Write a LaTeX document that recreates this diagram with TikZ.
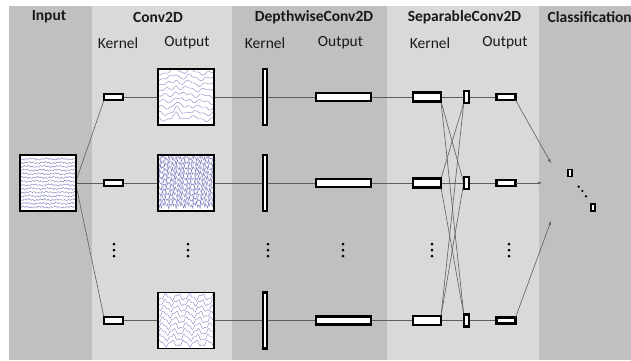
\documentclass[tikz,border=0pt]{standalone}
\usepackage{fontspec}
\setmainfont{Carlito}
\usetikzlibrary{arrows.meta,calc}
\pgfdeclarelayer{back}
\pgfdeclarelayer{lines}
\pgfsetlayers{back,lines,main}
\definecolor{colD}{HTML}{C0C0C0}
\definecolor{colL}{HTML}{D9D9D9}
\definecolor{conncol}{HTML}{5E5E5E}
\definecolor{wavecol}{RGB}{100,100,180}
\begin{document}
\begin{tikzpicture}[x=1pt,y=-1pt,
  box/.style={draw=black, line width=2.2pt, fill=white, inner sep=0pt, outer sep=0pt},
  sq/.style={box, line width=1.8pt, minimum width=56pt, minimum height=56pt},
  ckbox/.style={box, minimum width=19pt, minimum height=6.5pt},
  dkbox/.style={box, minimum width=3.8pt, minimum height=56pt},
  dobox/.style={box, minimum width=55pt, minimum height=8pt},
  skbox/.style={box, minimum width=28pt, minimum height=9pt},
  ssbox/.style={box, minimum width=5.5pt, minimum height=12pt},
  sobox/.style={box, minimum width=19pt, minimum height=6pt},
  clbox/.style={box, line width=1.8pt, minimum width=4pt, minimum height=7pt},
  title/.style={font=\bfseries\fontsize{15.5}{18}\selectfont, text=black!90, inner sep=0pt},
  sub/.style={font=\fontsize{15.5}{18}\selectfont, text=black!90, inner sep=0pt},
  conn/.style={draw=conncol, line width=0.6pt},
  arr/.style={conn, -{Latex[length=4pt,width=3pt]}},
  wave/.style={draw=wavecol, line width=0.35pt, opacity=0.85}]
\useasboundingbox (0,0) rectangle (631,360);
\clip (0,0) rectangle (631,360);
\begin{pgfonlayer}{back}
\fill[colD] (9,6) rectangle (92,360);
\fill[colL] (92,6) rectangle (232,360);
\fill[colD] (232,6) rectangle (387,360);
\fill[colL] (387,6) rectangle (539,360);
\fill[colD] (539,6) rectangle (631,360);
\end{pgfonlayer}

% titles
\node[title] (t1) at (49,17) {Input};
\node[title] (t2) at (158,17) {Conv2D};
\node[title] (t3) at (314,17) {DepthwiseConv2D};
\node[title] (t4) at (464.5,17) {SeparableConv2D};
\node[title, anchor=west] (t5) at (547.5,17) {Classification};
% sub labels
\node[sub] (l1) at (118,43) {Kernel};
\node[sub] (l2) at (187,43) {Output};
\node[sub] (l3) at (265,43) {Kernel};
\node[sub] (l4) at (340.5,43) {Output};
\node[sub] (l5) at (430,43) {Kernel};
\node[sub] (l6) at (505,43) {Output};

% input
\node[sq] (in) at (48,183) {};
% rows
\foreach \r/\yy in {a/97,b/183,c/320.5}{
  \node[ckbox] (ck\r) at (113.5,\yy) {};
  \node[sq] (co\r) at (186,\yy) {};
  \node[dkbox] (dk\r) at (265,\yy) {};
  \node[dobox] (do\r) at (343.5,\yy) {};
  \node[skbox] (sk\r) at (427,\yy) {};
  \node[ssbox] (ss\r) at (466.5,\yy) {};
  \node[sobox] (so\r) at (506,\yy) {};
}
% classification
\node[clbox] (cl1) at (570,173) {};
\node[clbox] (cl2) at (593,207.5) {};
\coordinate (p1) at (551,163);
\coordinate (p2) at (542,183);
\coordinate (p3) at (551,221);

% waves: input
\begin{scope}
\clip ($(in.north west)+(1,1)$) rectangle ($(in.south east)+(-1,-1)$);
\foreach \i in {0,...,13}
  \draw[wave] plot[domain=0:58,samples=90] ({\x+19},{159+\i*3.7+0.5*sin(90*\x+\i*77)+0.4*sin(211*\x+\i*131)+0.5*sin(23*\x+\i*40)});
\end{scope}
% waves: top output
\begin{scope}
\clip ($(coa.north west)+(1,1)$) rectangle ($(coa.south east)+(-1,-1)$);
\foreach \i in {0,...,8}
  \draw[wave] plot[domain=0:58,samples=80,smooth] ({\x+157},{73+\i*5.8+1.5*sin(18*\x+\i*37)+1.0*sin(41*\x+\i*71)-5/(1+((\x-19)/3)^2)-2.5/(1+((\x-33)/4)^2)});
\end{scope}
% waves: middle output
\begin{scope}
\clip ($(cob.north west)+(1,1)$) rectangle ($(cob.south east)+(-1,-1)$);
\foreach \i in {0,...,9}
  \draw[wave] plot[domain=0:58,samples=150] ({\x+157},{158+\i*5.2+1.6*sin(150*\x+\i*53)+1.2*sin(240*\x+\i*97)+1.5*sin(47*\x+\i*29)});
\end{scope}
% waves: bottom output
\begin{scope}
\clip ($(coc.north west)+(1,1)$) rectangle ($(coc.south east)+(-1,-1)$);
\foreach \i in {0,...,8}
  \draw[wave] plot[domain=0:58,samples=80,smooth] ({\x+157},{297+\i*5.8+2.5*sin(30*\x+\i*22)+1.2*sin(75*\x+\i*61)});
\end{scope}

% connectors
\begin{pgfonlayer}{lines}
\draw[conn] ([yshift=2pt]in.east) -- (cka.south west);
\draw[conn] (in.east) -- (ckb.west);
\draw[conn] ([yshift=-2pt]in.east) -- (ckc.north west);
\foreach \r in {a,b,c}{
  \draw[conn] (ck\r.east) -- (co\r.west);
  \draw[conn] (co\r.east) -- (do\r.west);
  \draw[conn] (do\r.east) -- (sk\r.west);
  \draw[conn] (ss\r.east) -- (so\r.west);
}
\draw[conn] (ska.east) -- (ssa.west);
\draw[conn] (ska.south east) -- (ssb.west);
\draw[conn] (ska.south east) -- (ssc.north west);
\draw[conn] (skb.north east) -- (ssa.south west);
\draw[conn] (skb.east) -- (ssb.west);
\draw[conn] (skb.south east) -- (ssc.north west);
\draw[conn] (skc.north east) -- (ssa.south west);
\draw[conn] (skc.north east) -- (ssb.west);
\draw[conn] (skc.east) -- (ssc.west);
\end{pgfonlayer}
\draw[arr] (soa.south east) -- (p1);
\draw[arr] (sob.east) -- (p2);
\draw[arr] (soc.north east) -- (p3);

% dots
\foreach \xx in {114,188,268,343,432,509}
  \foreach \yy in {244,250,256}
    \fill[black] (\xx,\yy) circle (1.5);
\foreach \xx/\yy in {578.7/186.7,582.3/191,586/196.3}
  \fill[black] (\xx,\yy) circle (1.3);
\end{tikzpicture}
\end{document}
